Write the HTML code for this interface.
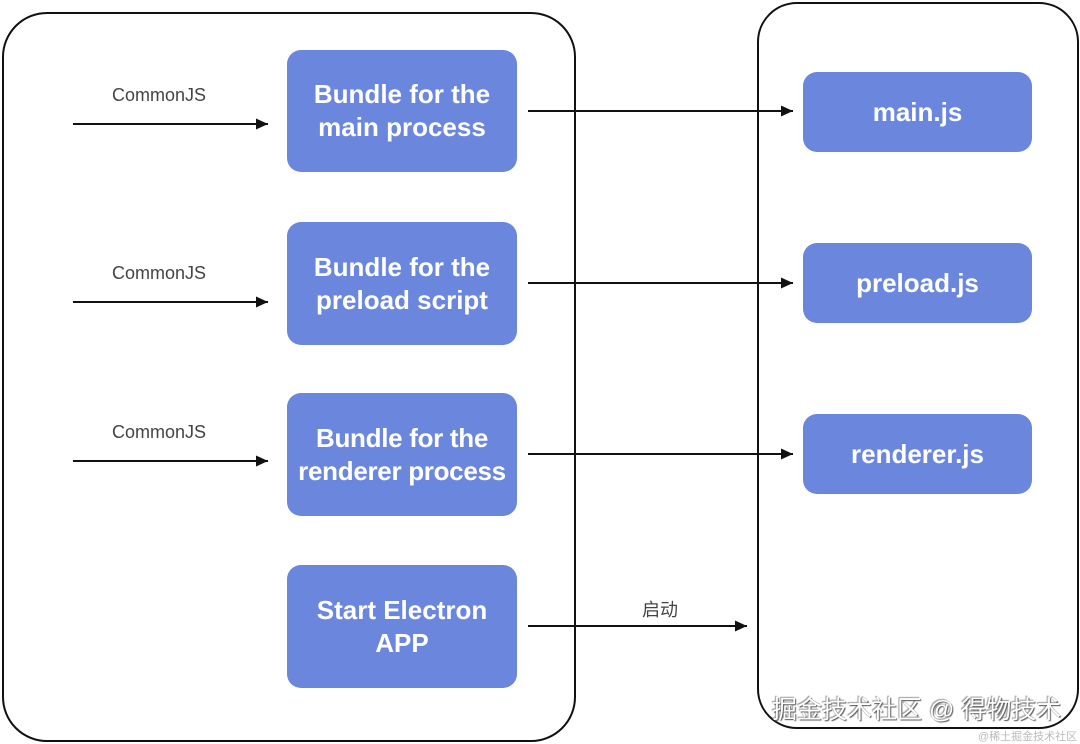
<!DOCTYPE html>
<html><head><meta charset="utf-8"><style>
body{margin:0;width:1080px;height:743px;background:#fff;position:relative;overflow:hidden;font-family:"Liberation Sans","Noto Sans CJK SC",sans-serif}
.c{position:absolute;border:2px solid #111;box-sizing:border-box}
.b{position:absolute;background:#6b87dd;color:#fff;font-weight:bold;font-size:26px;line-height:33px;display:flex;align-items:center;justify-content:center;text-align:center;box-sizing:border-box}
.l{position:absolute;font-size:18px;color:#444;width:160px;text-align:center}
</style></head><body>
<div class="c" style="left:2px;top:12px;width:574px;height:730px;border-radius:45px"></div>
<div class="c" style="left:757px;top:2px;width:322px;height:727px;border-radius:40px"></div>
<div class="b" style="left:287px;top:50px;width:230px;height:122px;border-radius:14px">Bundle for the<br>main process</div>
<div class="b" style="left:287px;top:222px;width:230px;height:123px;border-radius:14px">Bundle for the<br>preload script</div>
<div class="b" style="left:287px;top:393px;width:230px;height:123px;border-radius:14px;letter-spacing:-0.3px">Bundle for the<br>renderer process</div>
<div class="b" style="left:287px;top:565px;width:230px;height:123px;border-radius:14px">Start Electron<br>APP</div>
<div class="b" style="left:803px;top:72px;width:229px;height:80px;border-radius:14px">main.js</div>
<div class="b" style="left:803px;top:243px;width:229px;height:80px;border-radius:14px">preload.js</div>
<div class="b" style="left:803px;top:414px;width:229px;height:80px;border-radius:14px">renderer.js</div>
<div class="l" style="left:79px;top:85px">CommonJS</div>
<div class="l" style="left:79px;top:263px">CommonJS</div>
<div class="l" style="left:79px;top:422px">CommonJS</div>
<div class="l" style="left:580px;top:596px">启动</div>
<svg width="1080" height="743" style="position:absolute;left:0;top:0">
<defs><marker id="a" markerWidth="12" markerHeight="12" refX="12" refY="6" orient="auto" markerUnits="userSpaceOnUse"><path d="M0,0.5L12,6L0,11.5z" fill="#111"/></marker></defs>
<g stroke="#111" stroke-width="2" marker-end="url(#a)">
<line x1="73" y1="124" x2="268" y2="124"/>
<line x1="73" y1="302" x2="268" y2="302"/>
<line x1="73" y1="461" x2="268" y2="461"/>
<line x1="528" y1="111" x2="793" y2="111"/>
<line x1="528" y1="283" x2="793" y2="283"/>
<line x1="528" y1="454" x2="793" y2="454"/>
<line x1="528" y1="626" x2="747" y2="626"/>
</g></svg>
<div style="position:absolute;left:772px;top:690px;font-size:25px;color:#fff;text-shadow:1px 1px 1px #555,-1px -1px 1px #999">掘金技术社区 @ 得物技术</div>
<div style="position:absolute;left:978px;top:728px;font-size:11px;color:#bbb">@稀土掘金技术社区</div>
</body></html>
